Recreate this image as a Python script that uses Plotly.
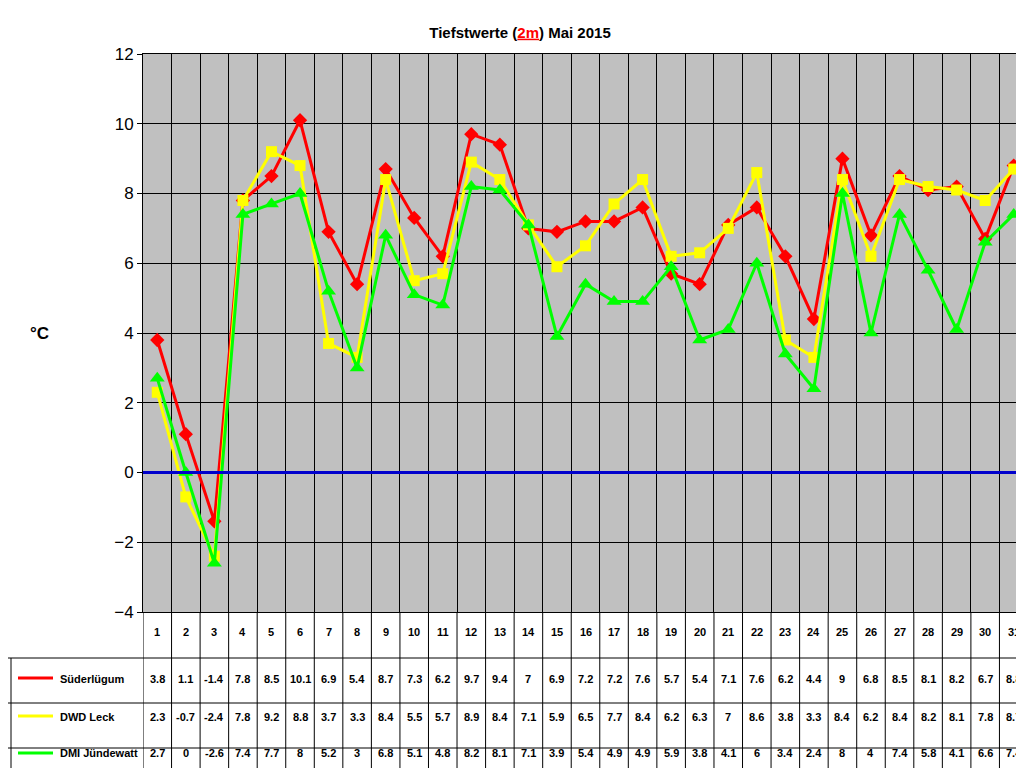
import plotly.graph_objects as go

days = list(range(1, 32))
suederluegum = [3.8, 1.1, -1.4, 7.8, 8.5, 10.1, 6.9, 5.4, 8.7, 7.3, 6.2, 9.7, 9.4, 7, 6.9, 7.2,
                7.2, 7.6, 5.7, 5.4, 7.1, 7.6, 6.2, 4.4, 9, 6.8, 8.5, 8.1, 8.2, 6.7, 8.8]
dwd_leck = [2.3, -0.7, -2.4, 7.8, 9.2, 8.8, 3.7, 3.3, 8.4, 5.5, 5.7, 8.9, 8.4, 7.1, 5.9, 6.5,
            7.7, 8.4, 6.2, 6.3, 7, 8.6, 3.8, 3.3, 8.4, 6.2, 8.4, 8.2, 8.1, 7.8, 8.7]
dmi_juendewatt = [2.7, 0, -2.6, 7.4, 7.7, 8, 5.2, 3, 6.8, 5.1, 4.8, 8.2, 8.1, 7.1, 3.9, 5.4,
                  4.9, 4.9, 5.9, 3.8, 4.1, 6, 3.4, 2.4, 8, 4, 7.4, 5.8, 4.1, 6.6, 7.4]

series = [
    ("Süderlügum", suederluegum, "#FF0000", "diamond", 11),
    ("DWD Leck", dwd_leck, "#FFFF00", "square", 11),
    ("DMI Jündewatt", dmi_juendewatt, "#00FF00", "triangle-up", 13),
]

fig = go.Figure()
for name, vals, col, sym, sz in series:
    fig.add_trace(go.Scatter(x=days, y=vals, mode="lines+markers", name=name,
                             line=dict(color=col, width=3),
                             marker=dict(symbol=sym, size=sz, color=col)))

# px -> paper y (plot from y=46 to y=604)
def py(p):
    return (604 - p) / 558

shapes = []
# zero line
shapes.append(dict(type="line", xref="paper", yref="y", x0=0, x1=1, y0=0, y1=0,
                   line=dict(color="#0000CC", width=3)))
# table grid
for k in range(32):
    shapes.append(dict(type="line", xref="x", yref="paper", x0=k + 0.5, x1=k + 0.5,
                       y0=py(604), y1=py(768), line=dict(color="black", width=1)))
for p in (650, 695, 740):
    shapes.append(dict(type="line", xref="paper", yref="paper", x0=-135 / 885, x1=1,
                       y0=py(p), y1=py(p), line=dict(color="black", width=1)))
shapes.append(dict(type="line", xref="paper", yref="paper", x0=-132 / 885, x1=-132 / 885,
                   y0=py(650), y1=py(768), line=dict(color="black", width=1)))

annotations = []
for d in days:
    annotations.append(dict(x=d, y=py(632), xref="x", yref="paper", text=f"<b>{d}</b>",
                            showarrow=False, font=dict(size=11, color="black")))
row_y = [679, 717, 753]
leg_y = [670, 708, 745]
for (name, vals, col, sym, sz), ry, ly in zip(series, row_y, leg_y):
    for d, v in zip(days, vals):
        annotations.append(dict(x=d, y=py(ry), xref="x", yref="paper", text=f"<b>{v:g}</b>",
                                showarrow=False, font=dict(size=11, color="black")))
    annotations.append(dict(x=-85 / 885, y=py(ry), xref="paper", yref="paper",
                            text=f"<b>{name}</b>", showarrow=False, xanchor="left",
                            font=dict(size=11, color="black")))
    shapes.append(dict(type="line", xref="paper", yref="paper", x0=-125 / 885, x1=-90 / 885,
                       y0=py(ly), y1=py(ly), line=dict(color=col, width=3)))
    fig.add_trace(go.Scatter(x=[0.5 - 29 / 28.55], y=[py(ly)], xaxis="x", yaxis="y2",
                             mode="markers", showlegend=False, cliponaxis=False,
                             marker=dict(symbol=sym, size=sz, color=col)))

annotations.append(dict(x=-115 / 885, y=py(325), xref="paper", yref="paper", text="<b>°C</b>",
                        showarrow=False, font=dict(size=17, color="black")))

fig.update_layout(
    width=1024, height=768,
    margin=dict(l=135, r=4, t=46, b=164),
    paper_bgcolor="white", plot_bgcolor="#C0C0C0",
    showlegend=False,
    title=dict(text="<b>Tiefstwerte (<span style='color:red'><u>2m</u></span>) Mai 2015</b>",
               x=0.5, xanchor="center", y=0.975, font=dict(size=15, color="black")),
    font=dict(family="Arial, Liberation Sans", color="black"),
    xaxis=dict(range=[0.5, 31.5], tickvals=[k + 0.5 for k in range(31)], showticklabels=False,
               showgrid=True, gridcolor="black", gridwidth=1, zeroline=False,
               showline=True, linecolor="black", mirror=True, ticks=""),
    yaxis=dict(range=[-4, 12], dtick=2, showgrid=True, gridcolor="black", gridwidth=1,
               zeroline=False, showline=True, linecolor="black", mirror=True,
               ticks="outside", ticklen=5, tickcolor="black",
               tickfont=dict(size=17, color="black", family="Arial Black, Liberation Sans")),
    yaxis2=dict(range=[0, 1], overlaying="y", visible=False),
    shapes=shapes, annotations=annotations,
)
fig.write_html("out.html")
